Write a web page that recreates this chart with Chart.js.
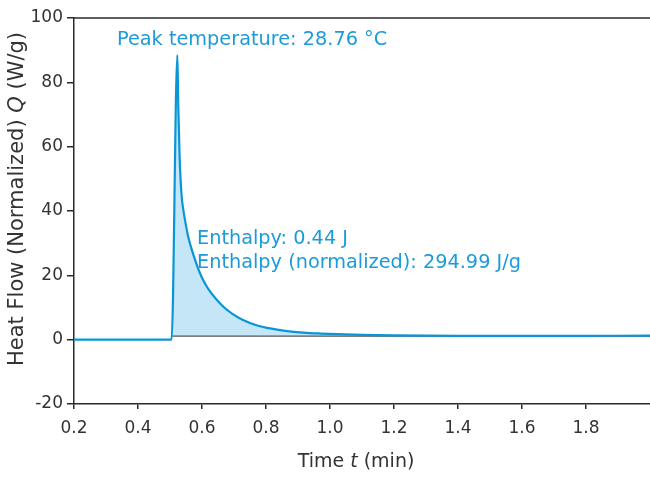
<!DOCTYPE html>
<html>
<head>
<meta charset="utf-8">
<script src="https://cdn.jsdelivr.net/npm/chart.js@4.4.1/dist/chart.umd.min.js"></script>
<style>
  html, body { margin: 0; padding: 0; background: #ffffff; }
  #wrap { width: 650px; height: 477px; }
</style>
</head>
<body>
<div id="wrap"><canvas id="c" width="650" height="477"></canvas></div>
<script>
// ---- data ----
const times = [0.2, 0.505, 0.523, 0.526, 0.530, 0.534, 0.538, 0.543, 0.549, 0.556, 0.565, 0.575, 0.588, 0.603, 0.62, 0.64, 0.666, 0.695, 0.728, 0.77, 0.8125, 0.86, 0.916, 0.97, 1.022, 1.1, 1.2, 1.3, 1.4, 1.6, 1.8, 2.0];
const heatFlow = [0, 0, 88.5, 72, 57, 48, 43, 39.5, 36, 32.4, 29, 25.8, 22.1, 18.6, 15.7, 13.1, 10.3, 8.0, 6.1, 4.5, 3.5, 2.75, 2.2, 1.9, 1.7, 1.5, 1.35, 1.25, 1.2, 1.15, 1.2, 1.25];
const baselineTimes = [0.505, 2.0];
const baselineValues = [1.1, 1.1];
const xTickValues = [0.2, 0.4, 0.6, 0.8, 1.0, 1.2, 1.4, 1.6, 1.8];
const yTickValues = [-20, 0, 20, 40, 60, 80, 100];
const peakLabel = 'Peak temperature: 28.76 °C';
const enthalpyLabel = 'Enthalpy: 0.44 J';
const enthalpyNormLabel = 'Enthalpy (normalized): 294.99 J/g';
const xTitle = [['Time ', false], ['t', true], [' (min)', false]];
const yTitle = [['Heat Flow (Normalized) ', false], ['Q', true], [' (W/g)', false]];

// ---- style ----
const FONT = '"DejaVu Sans", sans-serif';
const BLUE = '#0a96d6';
const TEXT_BLUE = '#1b9bd8';
const FILL = 'rgb(196,230,246)';
const AXIS = '#2a2a2a';
const TXT = '#333333';

function drawMixed(ctx, parts, size, cx, cy) {
  let total = 0;
  const widths = parts.map(([s, it]) => {
    ctx.font = (it ? 'italic ' : '') + size + 'px ' + FONT;
    const w = ctx.measureText(s).width;
    total += w;
    return w;
  });
  let x = cx - total / 2;
  ctx.textAlign = 'left';
  ctx.textBaseline = 'middle';
  parts.forEach(([s, it], i) => {
    ctx.font = (it ? 'italic ' : '') + size + 'px ' + FONT;
    ctx.fillText(s, x, cy);
    x += widths[i];
  });
}

const decor = {
  id: 'decor',
  afterDraw(chart) {
    const ctx = chart.ctx;
    const a = chart.chartArea;
    ctx.save();
    // top border
    ctx.strokeStyle = AXIS;
    ctx.lineWidth = 1.5;
    ctx.beginPath();
    ctx.moveTo(a.left, a.top);
    ctx.lineTo(a.right, a.top);
    ctx.stroke();
    // axis titles
    ctx.fillStyle = TXT;
    drawMixed(ctx, xTitle, 19, 356, 462);
    ctx.save();
    ctx.translate(18, 199);
    ctx.rotate(-Math.PI / 2);
    drawMixed(ctx, yTitle, 21, 0, 0);
    ctx.restore();
    // annotations
    ctx.fillStyle = TEXT_BLUE;
    ctx.font = '19.3px ' + FONT;
    ctx.textAlign = 'left';
    ctx.textBaseline = 'alphabetic';
    ctx.fillText(peakLabel, 117, 45);
    ctx.fillText(enthalpyLabel, 197, 244);
    ctx.fillText(enthalpyNormLabel, 197, 268);
    ctx.restore();
  }
};

new Chart(document.getElementById('c'), {
  type: 'line',
  data: {
    datasets: [
      {
        data: times.map((t, i) => ({ x: t, y: heatFlow[i] })),
        borderColor: BLUE,
        borderWidth: 2.2,
        pointRadius: 0,
        cubicInterpolationMode: 'monotone',
        fill: { target: { value: baselineValues[0] }, above: FILL, below: 'rgba(0,0,0,0)' }
      },
      {
        data: baselineTimes.map((t, i) => ({ x: t, y: baselineValues[i] })),
        borderColor: '#555555',
        borderWidth: 1.2,
        pointRadius: 0,
        fill: false
      }
    ]
  },
  options: {
    responsive: false,
    animation: false,
    devicePixelRatio: 1,
    layout: { padding: { top: 18, right: 0, left: 0, bottom: 0 } },
    plugins: {
      legend: { display: false },
      tooltip: { enabled: false },
      filler: { drawTime: 'beforeDatasetsDraw' }
    },
    scales: {
      x: {
        type: 'linear',
        min: 0.2,
        max: 2.0,
        afterBuildTicks: s => { s.ticks = xTickValues.map(v => ({ value: v })); },
        afterFit: s => { s.height = 73; },
        grid: { drawOnChartArea: false, drawTicks: true, tickLength: 5, color: AXIS, lineWidth: 1.5 },
        border: { display: true, color: AXIS, width: 1.5 },
        ticks: {
          color: TXT, padding: 9, maxRotation: 0, autoSkip: false,
          font: { family: FONT, size: 17 },
          callback: v => v.toFixed(1)
        }
      },
      y: {
        min: -20,
        max: 100,
        afterBuildTicks: s => { s.ticks = yTickValues.map(v => ({ value: v })); },
        afterFit: s => { s.width = 74; },
        grid: { drawOnChartArea: false, drawTicks: true, tickLength: 7, color: AXIS, lineWidth: 1.5 },
        border: { display: true, color: AXIS, width: 1.5 },
        ticks: {
          color: TXT, padding: 4, autoSkip: false,
          font: { family: FONT, size: 17 },
          callback: v => String(v)
        }
      }
    }
  },
  plugins: [decor]
});
</script>
</body>
</html>
